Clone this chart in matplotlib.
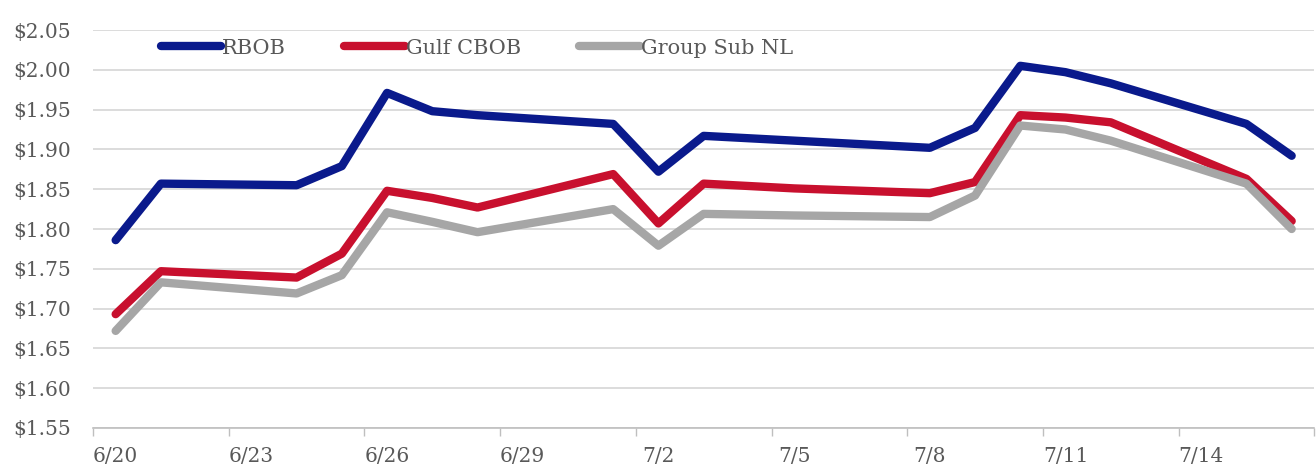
import matplotlib.pyplot as plt
import pandas as pd

dates = ["2019-06-20", "2019-06-21", "2019-06-24", "2019-06-25", "2019-06-26",
         "2019-06-27", "2019-06-28", "2019-07-01", "2019-07-02", "2019-07-03",
         "2019-07-05", "2019-07-08", "2019-07-09", "2019-07-10", "2019-07-11",
         "2019-07-12", "2019-07-15", "2019-07-16"]
rbob = [1.786, 1.857, 1.855, 1.879, 1.971, 1.948, 1.943, 1.932, 1.872, 1.917,
        1.911, 1.902, 1.927, 2.005, 1.997, 1.983, 1.932, 1.892]
gulf_cbob = [1.693, 1.747, 1.739, 1.769, 1.848, 1.839, 1.827, 1.869, 1.807, 1.857,
             1.851, 1.845, 1.859, 1.943, 1.940, 1.934, 1.863, 1.810]
group_sub = [1.672, 1.733, 1.719, 1.742, 1.821, 1.809, 1.796, 1.825, 1.779, 1.819,
             1.817, 1.815, 1.842, 1.930, 1.925, 1.911, 1.857, 1.800]
series_names = ["RBOB", "Gulf CBOB", "Group Sub NL"]
colors = ["#0a1a8c", "#c8102e", "#a6a6a6"]

x = pd.to_datetime(dates)
text_color = "#595959"
font = "DejaVu Serif"

fig = plt.figure(figsize=(13.16, 4.71), dpi=100)
ax = fig.add_axes([0.0707, 0.0913, 0.928, 0.845])

for vals, color, name in zip([rbob, gulf_cbob, group_sub], colors, series_names):
    ax.plot(x, vals, color=color, lw=6, label=name,
            solid_capstyle="round", solid_joinstyle="round")

ax.set_ylim(1.55, 2.05)
ax.set_yticks([1.55 + 0.05 * i for i in range(11)])
ax.yaxis.set_major_formatter(plt.FuncFormatter(lambda v, p: f"${v:.2f}"))
ax.grid(axis="y", color="#d9d9d9", lw=1.3)
ax.set_axisbelow(True)

# date axis: ticks on day boundaries, labels centred on the days
start = pd.Timestamp("2019-06-20") - pd.Timedelta(hours=12)
end = pd.Timestamp("2019-07-16") + pd.Timedelta(hours=12)
ax.set_xlim(start, end)
tick_bounds = pd.date_range(start, end, freq="3D")
label_days = pd.date_range("2019-06-20", "2019-07-14", freq="3D")
ax.set_xticks(tick_bounds)
ax.set_xticklabels([])
ax.set_xticks(label_days, minor=True)
ax.set_xticklabels([f"{d.month}/{d.day}" for d in label_days], minor=True)
ax.tick_params(axis="x", which="major", direction="out", length=6,
               color="#bfbfbf", width=1)
ax.tick_params(axis="x", which="minor", length=0, pad=14,
               labelsize=14.5, labelcolor=text_color)
ax.tick_params(axis="y", length=0, pad=16, labelsize=14.5, labelcolor=text_color)
for lab in ax.get_xticklabels(minor=True) + ax.get_yticklabels():
    lab.set_fontfamily(font)

for side in ["top", "right", "left"]:
    ax.spines[side].set_visible(False)
ax.spines["bottom"].set_color("#bfbfbf")
ax.spines["bottom"].set_linewidth(1.2)

fig.legend(loc="center left", bbox_to_anchor=(0.122, 0.898), ncol=3,
           frameon=False, handlelength=2.9, handletextpad=0.05,
           columnspacing=2.8, borderpad=0, borderaxespad=0,
           prop={"family": font, "size": 15}, labelcolor=text_color)

fig.savefig("out.png", dpi=100, facecolor="white")
